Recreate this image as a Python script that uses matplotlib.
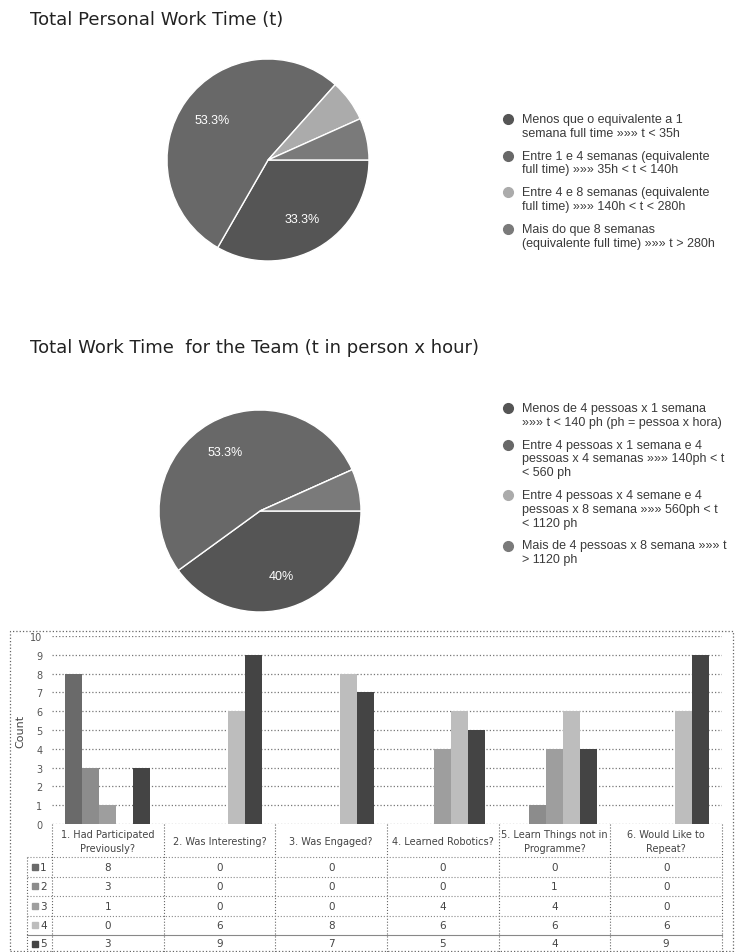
import numpy as np
import matplotlib
matplotlib.use("Agg")
import matplotlib.pyplot as plt
from matplotlib.lines import Line2D
from matplotlib.patches import Rectangle
import matplotlib.transforms as mtransforms

# ---- data ----
title1 = "Total Personal Work Time (t)"
title2 = "Total Work Time  for the Team (t in person x hour)"

personal_pct = [33.3, 53.3, 6.7, 6.7]
personal_labels = [
    "Menos que o equivalente a 1\nsemana full time \u00bb\u00bb\u00bb t < 35h",
    "Entre 1 e 4 semanas (equivalente\nfull time) \u00bb\u00bb\u00bb 35h < t < 140h",
    "Entre 4 e 8 semanas (equivalente\nfull time) \u00bb\u00bb\u00bb 140h < t < 280h",
    "Mais do que 8 semanas\n(equivalente full time) \u00bb\u00bb\u00bb t > 280h",
]

team_pct = [40.0, 53.3, 0.0, 6.7]
team_labels = [
    "Menos de 4 pessoas x 1 semana\n\u00bb\u00bb\u00bb t < 140 ph (ph = pessoa x hora)",
    "Entre 4 pessoas x 1 semana e 4\npessoas x 4 semanas \u00bb\u00bb\u00bb 140ph < t\n< 560 ph",
    "Entre 4 pessoas x 4 semane e 4\npessoas x 8 semana \u00bb\u00bb\u00bb 560ph < t\n< 1120 ph",
    "Mais de 4 pessoas x 8 semana \u00bb\u00bb\u00bb t\n> 1120 ph",
]

questions = ["1. Had Participated\nPreviously?", "2. Was Interesting?", "3. Was Engaged?",
             "4. Learned Robotics?", "5. Learn Things not in\nProgramme?", "6. Would Like to\nRepeat?"]
series_names = ["1", "2", "3", "4", "5"]
s1 = [8, 0, 0, 0, 0, 0]
s2 = [3, 0, 0, 0, 1, 0]
s3 = [1, 0, 0, 4, 4, 0]
s4 = [0, 6, 8, 6, 6, 6]
s5 = [3, 9, 7, 5, 4, 9]
counts = [s1, s2, s3, s4, s5]

# ---- styles ----
pie_colors = ["#555555", "#686868", "#ababab", "#7a7a7a"]
bar_colors = ["#6a6a6a", "#8c8c8c", "#9e9e9e", "#bdbdbd", "#444444"]

W, H = 739, 953
fig = plt.figure(figsize=(W / 100, H / 100), dpi=100)


def fx(px):
    return px / W


def fy(py):
    return 1 - py / H


def pct_fmt(p):
    if p < 10:
        return ""
    if abs(p - round(p)) < 0.05:
        return "%d%%" % round(p)
    return "%.1f%%" % p


def draw_pie(cx, cy, r, values):
    pad = 1.1
    ax = fig.add_axes([fx(cx - r * pad), fy(cy + r * pad), 2 * r * pad / W, 2 * r * pad / H])
    ax.pie(values, colors=pie_colors, startangle=0, counterclock=False,
           autopct=pct_fmt, pctdistance=0.68,
           wedgeprops=dict(edgecolor="white", linewidth=1.0),
           textprops=dict(color="white", fontsize=9, family="Liberation Sans"))
    ax.set_xlim(-pad, pad)
    ax.set_ylim(-pad, pad)
    ax.set_aspect("equal")
    ax.axis("off")
    return ax


def draw_legend(x, y0, labels):
    pitch, gap = 13.7, 9.3
    y = y0
    for lab, col in zip(labels, pie_colors):
        fig.add_artist(Line2D([fx(x)], [fy(y)], marker="o", markersize=7, color=col,
                              transform=fig.transFigure, linestyle="none"))
        for line in lab.split("\n"):
            fig.text(fx(x + 14), fy(y), line, fontsize=9, family="Liberation Sans",
                     color="#3a3a3a", va="center", ha="left")
            y += pitch
        y += gap


# titles
fig.text(fx(30), fy(20), title1, fontsize=13, color="#222222", va="center", ha="left")
fig.text(fx(30), fy(348), title2, fontsize=13, color="#222222", va="center", ha="left")

draw_pie(268, 161, 101, personal_pct)
draw_legend(508, 120, personal_labels)

draw_pie(260, 512, 101, team_pct)
draw_legend(508, 409, team_labels)

# ---- bar chart with data table ----
fig.add_artist(Rectangle((fx(10), fy(952)), fx(733) - fx(10), fy(632) - fy(952),
                         transform=fig.transFigure, fill=False, edgecolor="#666666",
                         linestyle=":", linewidth=0.9))

ax = fig.add_axes([fx(52), fy(825), fx(722) - fx(52), fy(637) - fy(825)])
x = np.arange(len(questions))
bw = 0.152
for k, (vals, col) in enumerate(zip(counts, bar_colors)):
    ax.bar(x + (k - 2) * bw, vals, width=bw, color=col, zorder=2)
ax.set_xlim(-0.5, len(questions) - 0.5)
ax.set_ylim(0, 10)
ax.set_yticks(range(0, 11))
ax.yaxis.grid(True, linestyle=":", color="#777777", linewidth=0.9, zorder=0)
ax.set_xticks([])
for s in ax.spines.values():
    s.set_visible(False)
ax.tick_params(axis="y", length=0, pad=7, labelsize=7, labelcolor="#555555")
ax.set_ylabel("Count", fontsize=8, color="#444444", labelpad=3)

# table
tr = mtransforms.blended_transform_factory(ax.transData, fig.transFigure)
row_edges = [858, 877.5, 897, 916.5, 936, 953]
for i, q in enumerate(questions):
    fig.text(i, fy(842), q, transform=tr, ha="center", va="center", fontsize=7,
             color="#444444", linespacing=1.4)
    for r, vals in enumerate(counts):
        yc = (row_edges[r] + row_edges[r + 1]) / 2
        fig.text(i, fy(yc), str(vals[i]), transform=tr, ha="center", va="center",
                 fontsize=7.5, color="#444444")
for b in np.arange(-0.5, len(questions)):
    fig.add_artist(Line2D([b, b], [fy(825), fy(953)], transform=tr, color="#666666",
                          linestyle=":", linewidth=0.8))
fig.add_artist(Line2D([fx(27), fx(27)], [fy(858), fy(953)], transform=fig.transFigure,
                      color="#666666", linestyle=":", linewidth=0.8))
for k, e in enumerate(row_edges[:-1]):
    ls = "-" if k == 4 else ":"
    fig.add_artist(Line2D([fx(27), fx(722)], [fy(e), fy(e)], transform=fig.transFigure,
                          color="#888888", linestyle=ls, linewidth=0.8))
for r, (name, col) in enumerate(zip(series_names, bar_colors)):
    yc = (row_edges[r] + row_edges[r + 1]) / 2
    fig.add_artist(Line2D([fx(35)], [fy(yc)], marker="s", markersize=4.5, color=col,
                          transform=fig.transFigure, linestyle="none"))
    fig.text(fx(40), fy(yc), name, fontsize=7.5, color="#444444", va="center", ha="left")

fig.savefig("out.png", dpi=100)
